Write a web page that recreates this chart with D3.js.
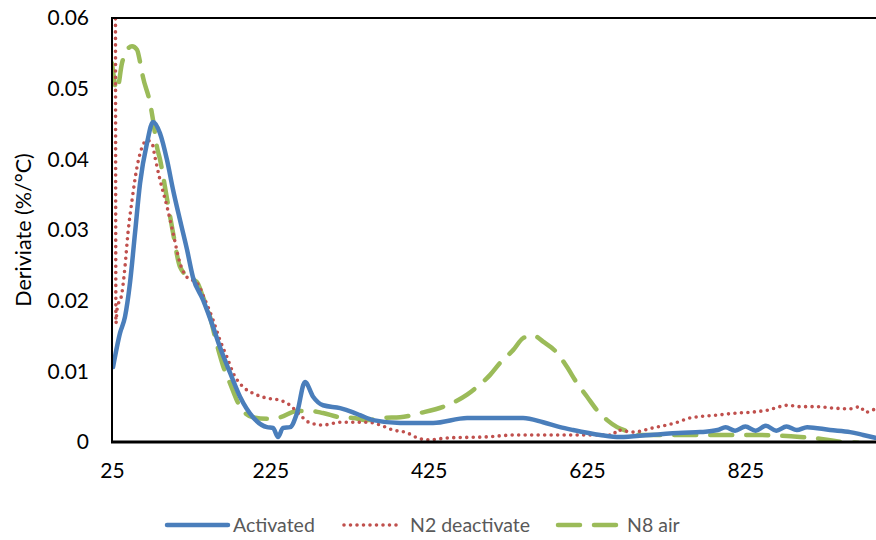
<!DOCTYPE html>
<html lang="en">
<head>
  <meta charset="UTF-8" />
  <title>Derivative weight loss</title>
  <script src="https://d3js.org/d3.v7.min.js"></script>
  <style>
    body { margin: 0; background: #fff; font-family: Lato, 'Open Sans', sans-serif; }
    svg { display: block; }
    .tick text { font-family: Lato, sans-serif; font-size: 21px; fill: #000; }
    .legend text { font-family: Lato, sans-serif; font-size: 19.5px; fill: #595959; }
  </style>
</head>
<body>
  <svg width="876" height="540"></svg>

  <script>
    // temperature (°C) and derivative (%/°C) for each run
    const activatedT = [26.3, 35.1, 41.4, 47.7, 54.1, 60.4, 69.2, 76.8, 85.6, 94.5, 102.1, 110.9, 119.8, 127.3,
      140.0, 152.6, 161.4, 174.1, 186.7, 203.1, 220.8, 228.4, 234.7, 241.0, 249.9, 258.7, 268.8, 279.0,
      291.6, 313.1, 329.5, 338.3, 354.7, 388.9, 430.6, 473.5, 515.2, 544.3, 569.5, 591.0, 607.4, 641.5,
      666.8, 704.7, 746.4, 767.9, 790, 800, 812, 825, 838, 851, 864, 877, 890, 903, 932.1, 957.4, 973.8, 989.0];
    const activatedD = [0.0106, 0.0154, 0.0177, 0.0225, 0.0296, 0.0366, 0.0423, 0.0453, 0.0437, 0.0399, 0.0357,
      0.0314, 0.0272, 0.0233, 0.0201, 0.0163, 0.0134, 0.0098, 0.0064, 0.0035, 0.0021, 0.0020, 0.0007,
      0.0020, 0.0021, 0.0041, 0.0085, 0.0064, 0.0052, 0.0048, 0.0042, 0.0038, 0.0031, 0.0027, 0.0027,
      0.0034, 0.0034, 0.0034, 0.0028, 0.0021, 0.0017, 0.0010, 0.0007, 0.0010, 0.0013, 0.0014, 0.0017,
      0.0021, 0.0016, 0.0022, 0.0016, 0.0023, 0.0016, 0.0022, 0.0017, 0.0021, 0.0017, 0.0014, 0.0010,
      0.0006, 0.0001];

    const n2T = [29.3, 30.0, 31.3, 37.6, 41.4, 45.2, 50.3, 56.6, 62.9, 69.2, 75.5, 79.3, 85.6, 94.5, 102.1,
      110.9, 119.8, 132.4, 142.5, 152.6, 161.4, 170.3, 177.9, 190.5, 203.1, 220.8, 237.3, 249.9, 262.5,
      275.2, 291.6, 313.1, 347.2, 363.6, 380.0, 397.7, 410.3, 423.0, 452.0, 493.7, 536.7, 578.4, 620.1,
      658.0, 663.0, 683.2, 708.5, 736.3, 755.3, 789.4, 814.6, 831.0, 852.5, 879.1, 894.2, 915.7, 935.9,
      957.4, 970.0, 976.4, 989.0];
    const n2D = [0.0700, 0.0168, 0.0187, 0.0211, 0.0248, 0.0296, 0.0342, 0.0389, 0.0417, 0.0427, 0.0423,
      0.0403, 0.0371, 0.0333, 0.0296, 0.0253, 0.0233, 0.0225, 0.0201, 0.0173, 0.0144, 0.0120, 0.0098,
      0.0078, 0.0069, 0.0062, 0.0059, 0.0052, 0.0038, 0.0027, 0.0024, 0.0028, 0.0028, 0.0024, 0.0017,
      0.0013, 0.0006, 0.0003, 0.0006, 0.0007, 0.0010, 0.0010, 0.0010, 0.0010, 0.0017, 0.0014, 0.0020,
      0.0027, 0.0034, 0.0038, 0.0041, 0.0042, 0.0045, 0.0052, 0.0050, 0.0050, 0.0048, 0.0047, 0.0050,
      0.0042, 0.0047];

    const airT = [25.0, 31.3, 37.6, 44.0, 50.3, 56.6, 60.4, 64.2, 73.0, 76.8, 81.9, 85.6, 94.5, 102.1, 110.9,
      123.5, 132.4, 140.0, 148.8, 157.7, 165.2, 174.1, 186.7, 203.1, 220.8, 237.3, 258.7, 275.2, 291.6,
      313.1, 329.5, 347.2, 367.4, 388.9, 414.1, 448.2, 473.5, 486.1, 502.6, 515.2, 531.6, 544.3, 556.9,
      569.5, 587.2, 599.8, 612.5, 625.1, 637.7, 650.4, 663.0, 679.4, 692.1, 767.9, 831.0, 894.2, 923.3,
      948.6, 967.5];
    const airD = [0.0536, 0.0498, 0.0536, 0.0555, 0.0560, 0.0555, 0.0538, 0.0516, 0.0480, 0.0456, 0.0417,
      0.0400, 0.0344, 0.0296, 0.0248, 0.0232, 0.0226, 0.0205, 0.0177, 0.0137, 0.0108, 0.0083, 0.0050,
      0.0035, 0.0033, 0.0035, 0.0044, 0.0044, 0.0041, 0.0035, 0.0034, 0.0031, 0.0034, 0.0035, 0.0041,
      0.0052, 0.0067, 0.0078, 0.0095, 0.0112, 0.0130, 0.0147, 0.0151, 0.0142, 0.0126, 0.0106, 0.0083,
      0.0064, 0.0045, 0.0031, 0.0021, 0.0014, 0.0010, 0.0010, 0.0010, 0.0007, 0.0004, 0.0000, -0.0001];

    const seriesNames = ["Activated", "N2 deactivate", "N8 air"];
    const xTicks = [25, 225, 425, 625, 825];
    const yTicks = [0, 0.01, 0.02, 0.03, 0.04, 0.05, 0.06];

    const svg = d3.select("svg");
    const m = { left: 112, top: 18, right: 877, bottom: 442 };

    const x = d3.scaleLinear().domain([25, 990]).range([m.left, 876]);
    const y = d3.scaleLinear().domain([0, 0.06]).range([m.bottom, m.top]);

    svg.append("defs").append("clipPath").attr("id", "plot")
      .append("rect").attr("x", m.left).attr("y", m.top)
      .attr("width", m.right - m.left).attr("height", m.bottom - m.top);

    const series = [
      { name: seriesNames[0], t: activatedT, d: activatedD, color: "#4a7ebb", width: 4.5, dash: null },
      { name: seriesNames[1], t: n2T, d: n2D, color: "#c0504d", width: 3.6, dash: "0,6.5" },
      { name: seriesNames[2], t: airT, d: airD, color: "#9bbb59", width: 4.5, dash: "22,14" }
    ];

    const line = d3.line()
      .x(p => x(p[0]))
      .y(p => y(p[1]))
      .curve(d3.curveMonotoneX);

    const g = svg.append("g").attr("clip-path", "url(#plot)");
    // draw in reverse so the blue run sits on top
    series.slice().reverse().forEach(s => {
      g.append("path")
        .datum(d3.zip(s.t, s.d))
        .attr("d", line)
        .attr("fill", "none")
        .attr("stroke", s.color)
        .attr("stroke-width", s.width)
        .attr("stroke-linecap", "round")
        .attr("stroke-linejoin", "round")
        .attr("stroke-dasharray", s.dash);
    });

    // frame
    svg.append("rect")
      .attr("x", m.left).attr("y", m.top)
      .attr("width", m.right - m.left).attr("height", m.bottom - m.top)
      .attr("fill", "none").attr("stroke", "#000").attr("stroke-width", 2);
    svg.append("line")
      .attr("x1", m.left - 1).attr("x2", m.right).attr("y1", m.bottom).attr("y2", m.bottom)
      .attr("stroke", "#000").attr("stroke-width", 3);

    const xAxis = svg.append("g")
      .attr("transform", `translate(0,${m.bottom})`)
      .call(d3.axisBottom(x).tickValues(xTicks).tickSize(0).tickPadding(21).tickFormat(d3.format("d")));
    xAxis.select(".domain").remove();

    const yAxis = svg.append("g")
      .attr("transform", `translate(${m.left},0)`)
      .call(d3.axisLeft(y).tickValues(yTicks).tickSize(0).tickPadding(23)
        .tickFormat(d => d === 0 ? "0" : d3.format(".2f")(d)));
    yAxis.select(".domain").remove();

    svg.append("text")
      .attr("transform", `translate(31,${(m.top + m.bottom) / 2}) rotate(-90)`)
      .attr("text-anchor", "middle")
      .style("font-family", "Lato, sans-serif")
      .style("font-size", "21.5px")
      .text("Deriviate (%/°C)");

    // legend: sample line then label
    const legendLine = [[167, 228], [344, 398], [558, 618]];
    const legendText = [233, 410, 627];
    const legend = svg.append("g").attr("class", "legend");
    series.forEach((s, i) => {
      legend.append("line")
        .attr("x1", legendLine[i][0]).attr("x2", legendLine[i][1])
        .attr("y1", 525).attr("y2", 525)
        .attr("stroke", s.color)
        .attr("stroke-width", s.width)
        .attr("stroke-linecap", "round")
        .attr("stroke-dasharray", s.dash);
      legend.append("text")
        .attr("x", legendText[i])
        .attr("y", 532)
        .text(s.name);
    });
  </script>
</body>
</html>
